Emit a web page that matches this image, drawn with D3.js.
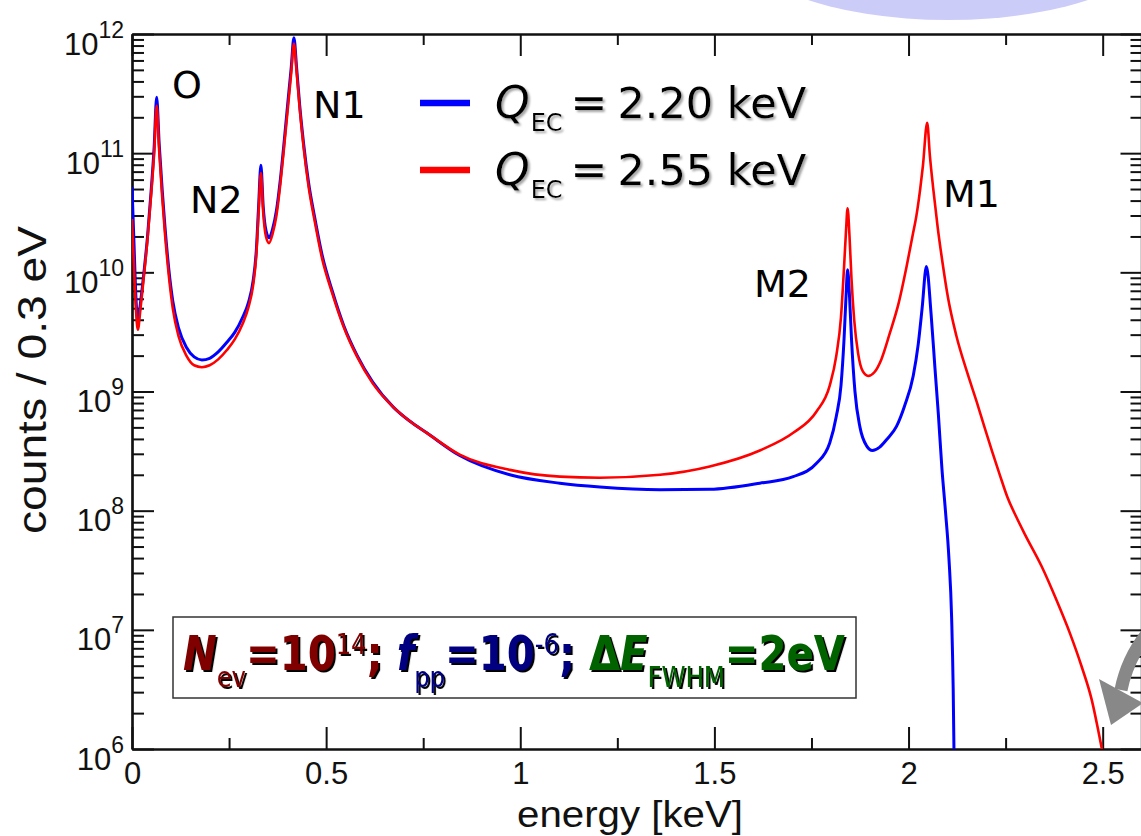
<!DOCTYPE html>
<html>
<head>
<meta charset="utf-8">
<script src="https://cdn.jsdelivr.net/npm/d3@7"></script>
<style>
  html, body { margin: 0; padding: 0; background: #fff; }
  svg { display: block; }
</style>
</head>
<body>
<svg id="chart" width="1141" height="836"></svg>
<script>
// Electron-capture calorimetric spectrum, two Q values (counts per 0.3 eV bin)
const blueEnergy = [0.000,0.005,0.010,0.015,0.022,0.030,0.040,0.050,0.057,0.0635,0.070,0.078,0.085,0.095,0.105,0.120,0.140,0.160,0.180,0.200,0.222,0.245,0.265,0.285,0.300,0.312,0.320,0.326,0.332,0.338,0.345,0.353,0.362,0.372,0.382,0.392,0.402,0.410,0.417,0.424,0.432,0.442,0.455,0.470,0.490,0.515,0.545,0.580,0.620,0.673,0.715,0.759,0.844,0.973,1.102,1.205,1.360,1.488,1.617,1.703,1.763,1.797,1.814,1.826,1.834,1.839,1.843,1.848,1.853,1.862,1.875,1.892,1.907,1.925,1.945,1.969,1.990,2.012,2.025,2.035,2.046,2.058,2.068,2.077,2.086,2.095,2.104,2.111,2.115,2.117];
const blueCounts = [5.2e10,1.8e10,6.3e9,3.9e9,5.6e9,9.5e9,2.0e10,5.2e10,1.12e11,2.95e11,1.2e11,4.8e10,2.4e10,1.05e10,5.75e9,3.4e9,2.35e9,1.95e9,1.84e9,1.9e9,2.15e9,2.6e9,3.15e9,4.2e9,5.6e9,8.5e9,1.5e10,3.55e10,7.9e10,3.55e10,2.25e10,1.95e10,2.3e10,3.3e10,6.0e10,1.26e11,2.8e11,5.2e11,9.3e11,5.2e11,2.5e11,1.2e11,5.6e10,2.95e10,1.38e10,7.1e9,3.6e9,2.0e9,1.2e9,7.4e8,5.65e8,4.5e8,2.9e8,2.0e8,1.7e8,1.58e8,1.5e8,1.51e8,1.7e8,1.93e8,2.5e8,3.7e8,6.2e8,1.12e9,2.8e9,6.3e9,1.05e10,6.3e9,2.8e9,1.0e9,5.0e8,3.5e8,3.2e8,3.4e8,4.0e8,5.1e8,7.6e8,1.35e9,2.5e9,5.0e9,1.12e10,4.5e9,1.58e9,6.3e8,2.25e8,1.0e8,4.0e7,1.26e7,3.2e6,1.0e6];

const redEnergy = [0.000,0.005,0.010,0.015,0.022,0.030,0.040,0.050,0.057,0.0635,0.070,0.078,0.085,0.095,0.105,0.120,0.140,0.160,0.180,0.200,0.222,0.245,0.265,0.285,0.300,0.312,0.320,0.326,0.332,0.338,0.345,0.353,0.362,0.372,0.382,0.392,0.402,0.410,0.417,0.424,0.432,0.442,0.455,0.470,0.490,0.515,0.545,0.580,0.620,0.673,0.715,0.759,0.844,0.973,1.102,1.205,1.360,1.488,1.617,1.703,1.763,1.797,1.814,1.826,1.834,1.839,1.843,1.848,1.853,1.860,1.870,1.882,1.896,1.912,1.930,1.952,1.975,1.995,2.010,2.020,2.030,2.037,2.048,2.055,2.063,2.075,2.089,2.101,2.123,2.150,2.175,2.195,2.215,2.235,2.255,2.278,2.300,2.343,2.381,2.416,2.446,2.472,2.489,2.498];
const redCounts = [2.8e10,1.12e10,5.0e9,3.3e9,5.0e9,8.9e9,1.9e10,4.8e10,1.0e11,2.5e11,1.05e11,4.2e10,2.1e10,9.3e9,5.0e9,2.9e9,2.0e9,1.66e9,1.6e9,1.66e9,1.86e9,2.24e9,2.75e9,3.7e9,5.1e9,7.8e9,1.38e10,3.16e10,6.8e10,3.16e10,2.0e10,1.76e10,2.1e10,3.0e10,5.5e10,1.15e11,2.5e11,4.7e11,8.3e11,4.8e11,2.35e11,1.12e11,5.2e10,2.75e10,1.29e10,6.8e9,3.5e9,1.95e9,1.17e9,7.4e8,5.65e8,4.5e8,2.95e8,2.2e8,1.93e8,1.89e8,2.0e8,2.35e8,3.2e8,4.5e8,6.8e8,1.12e9,2.0e9,4.2e9,1.12e10,2.24e10,3.45e10,2.0e10,8.9e9,4.0e9,2.1e9,1.48e9,1.35e9,1.45e9,1.86e9,3.1e9,5.6e9,1.12e10,2.0e10,2.95e10,5.0e10,7.8e10,1.8e11,9.5e10,5.25e10,2.4e10,1.12e10,6.3e9,2.95e9,1.48e9,8.3e8,5.1e8,3.16e8,2.0e8,1.29e8,8.8e7,6.3e7,3.4e7,1.78e7,9.3e6,4.9e6,2.57e6,1.41e6,1.0e6];

const seriesLabels = ["2.20 keV", "2.55 keV"];
const seriesColors = ["#0000ff", "#ff0000"];

const xMajorTicks = [0, 0.5, 1, 1.5, 2, 2.5];
const xMinorTicks = [0.25, 0.75, 1.25, 1.75, 2.25];
const xTickLabels = ["0", "0.5", "1", "1.5", "2", "2.5"];
const yExponents = [6, 7, 8, 9, 10, 11, 12];

const peakNames = ["O", "N2", "N1", "M2", "M1"];

const svg = d3.select("#chart");

const x = d3.scaleLinear().domain([0, 2.6]).range([132, 1141.5]);
const y = d3.scaleLog().domain([1e6, 1e12]).range([749, 34]);

// shadow filters for the legend and the parameter box
const defs = svg.append("defs");
defs.append("filter").attr("id", "greyShadow")
  .attr("x", "-10%").attr("y", "-30%").attr("width", "130%").attr("height", "160%")
  .append("feDropShadow")
  .attr("dx", 2).attr("dy", 2).attr("stdDeviation", 0.8)
  .attr("flood-color", "#999").attr("flood-opacity", 0.9);
defs.append("filter").attr("id", "blackShadow")
  .attr("x", "-10%").attr("y", "-30%").attr("width", "130%").attr("height", "160%")
  .append("feDropShadow")
  .attr("dx", 2.5).attr("dy", 2).attr("stdDeviation", 0.3)
  .attr("flood-color", "#000").attr("flood-opacity", 1);

// decorative shape at the top edge
svg.append("ellipse")
  .attr("cx", 948).attr("cy", -62).attr("rx", 214).attr("ry", 82)
  .attr("fill", "#ccccf9");

// clip for the curves
defs.append("clipPath").attr("id", "plotClip")
  .append("rect").attr("x", 132).attr("y", 34).attr("width", 1141.5 - 132).attr("height", 749 - 34);

// minor log positions
const yMinor = [];
yExponents.slice(0, -1).forEach(e => {
  for (let m = 2; m <= 9; m++) yMinor.push(m * Math.pow(10, e));
});
const yMajor = yExponents.map(e => Math.pow(10, e));

const axisColor = "#111";
function styleAxis(g) {
  g.selectAll("path.domain").attr("stroke", axisColor).attr("stroke-width", 2.2);
  g.selectAll(".tick line").attr("stroke", axisColor).attr("stroke-width", 2);
  g.selectAll(".tick text").remove();
}

// bottom axis
svg.append("g").attr("transform", "translate(0,749)")
  .call(d3.axisBottom(x).tickValues(xMinorTicks).tickSize(-11).tickSizeOuter(0).tickFormat(""))
  .call(styleAxis);
const bottom = svg.append("g").attr("transform", "translate(0,749)")
  .call(d3.axisBottom(x).tickValues(xMajorTicks).tickSize(-22).tickSizeOuter(0).tickFormat(""))
  .call(styleAxis);
bottom.selectAll("g.tick").append("text")
  .attr("y", 35).attr("text-anchor", "middle")
  .attr("font-family", "Liberation Sans, Arial, sans-serif")
  .attr("font-size", 31).attr("fill", "#111")
  .text((d, i) => xTickLabels[i]);

// top axis
svg.append("g").attr("transform", "translate(0,34)")
  .call(d3.axisTop(x).tickValues(xMinorTicks).tickSize(-11).tickSizeOuter(0).tickFormat(""))
  .call(styleAxis);
svg.append("g").attr("transform", "translate(0,34)")
  .call(d3.axisTop(x).tickValues(xMajorTicks).tickSize(-22).tickSizeOuter(0).tickFormat(""))
  .call(styleAxis);

// left axis
svg.append("g").attr("transform", "translate(132,0)")
  .call(d3.axisLeft(y).tickValues(yMinor).tickSize(-12).tickSizeOuter(0).tickFormat(""))
  .call(styleAxis);
const left = svg.append("g").attr("transform", "translate(132,0)")
  .call(d3.axisLeft(y).tickValues(yMajor).tickSize(-22).tickSizeOuter(0).tickFormat(""))
  .call(styleAxis);
const yLab = left.selectAll("g.tick").append("text")
  .attr("x", -8).attr("y", 20).attr("text-anchor", "end")
  .attr("font-family", "Liberation Sans, Arial, sans-serif")
  .attr("fill", "#111");
yLab.append("tspan").attr("font-size", 31).text("10");
yLab.append("tspan").attr("font-size", 23).attr("dy", -17).text((d, i) => yExponents[i]);

// right axis
svg.append("g").attr("transform", "translate(1141.5,0)")
  .call(d3.axisRight(y).tickValues(yMinor).tickSize(-11).tickSizeOuter(0).tickFormat(""))
  .call(styleAxis);
svg.append("g").attr("transform", "translate(1141.5,0)")
  .call(d3.axisRight(y).tickValues(yMajor).tickSize(-21).tickSizeOuter(0).tickFormat(""))
  .call(styleAxis);

// axis titles
svg.append("text")
  .attr("x", 630).attr("y", 827).attr("text-anchor", "middle")
  .attr("font-family", "Liberation Sans, Arial, sans-serif")
  .attr("font-size", 36).attr("fill", "#111")
  .attr("textLength", 226).attr("lengthAdjust", "spacingAndGlyphs")
  .text("energy [keV]");
svg.append("text")
  .attr("transform", "translate(46,380) rotate(-90)")
  .attr("text-anchor", "middle")
  .attr("font-family", "Liberation Sans, Arial, sans-serif")
  .attr("font-size", 40).attr("fill", "#111")
  .attr("textLength", 308).attr("lengthAdjust", "spacingAndGlyphs")
  .text("counts / 0.3 eV");

// spectra
const line = d3.line()
  .x(d => x(d[0]))
  .y(d => y(d[1]))
  .curve(d3.curveMonotoneX);

const series = [
  d3.zip(blueEnergy, blueCounts),
  d3.zip(redEnergy, redCounts)
];
const plot = svg.append("g").attr("clip-path", "url(#plotClip)");
plot.selectAll("path.spec").data(series).join("path")
  .attr("class", "spec")
  .attr("d", line)
  .attr("fill", "none")
  .attr("stroke", (d, i) => seriesColors[i])
  .attr("stroke-width", (d, i) => i === 0 ? 3 : 2.6)
  .attr("stroke-linejoin", "round");

// peak names
const peakLabelPos = [[172, 98], [190, 213], [313, 118], [754, 297], [943, 207]];
svg.selectAll("text.peak").data(peakNames).join("text")
  .attr("class", "peak")
  .attr("x", (d, i) => peakLabelPos[i][0]).attr("y", (d, i) => peakLabelPos[i][1])
  .attr("font-family", "DejaVu Sans, sans-serif")
  .attr("font-size", 38).attr("fill", "#000")
  .text(d => d);

// legend
const legend = svg.append("g");
seriesLabels.forEach((lab, i) => {
  const by = 118 + i * 67;
  legend.append("line")
    .attr("x1", 420).attr("x2", 470).attr("y1", by - 15).attr("y2", by - 15)
    .attr("stroke", seriesColors[i]).attr("stroke-width", 6.5);
  const t = legend.append("text")
    .attr("x", 495).attr("y", by)
    .attr("font-family", "DejaVu Sans, sans-serif")
    .attr("fill", "#000")
    .attr("filter", "url(#greyShadow)");
  t.append("tspan").attr("font-size", 44).attr("font-style", "italic").text("Q");
  t.append("tspan").attr("font-size", 24).attr("dy", 13).attr("dx", 1).text("EC");
  t.append("tspan").attr("font-size", 44).attr("dy", -13).attr("dx", 8).text("=");
  t.append("tspan").attr("font-size", 43).attr("dx", 10).text(lab);
});

// parameter box
svg.append("rect")
  .attr("x", 173).attr("y", 617).attr("width", 683).attr("height", 81)
  .attr("fill", "#fff").attr("stroke", "#333").attr("stroke-width", 1.5);

const noteParts = [
  {t: "N", c: "#800000", it: true},
  {t: "ev", c: "#800000", sub: true},
  {t: "=10", c: "#800000"},
  {t: "14", c: "#800000", sup: true},
  {t: "; ", c: "#800000"},
  {t: "f", c: "#000080", it: true},
  {t: "pp", c: "#000080", sub: true},
  {t: "=10", c: "#000080"},
  {t: "-6", c: "#000080", sup: true},
  {t: "; ", c: "#000080"},
  {t: "\u0394", c: "#006400"},
  {t: "E", c: "#006400", it: true},
  {t: "FWHM", c: "#006400", sub: true},
  {t: "=2eV", c: "#006400"}
];
const noteGroup = svg.append("g").attr("filter", "url(#blackShadow)");
const noteText = noteGroup.append("text")
  .attr("font-family", "DejaVu Sans, sans-serif");
let shift = 0;
noteParts.forEach(p => {
  const target = p.sub ? 17 : p.sup ? -16 : 0;
  const ts = noteText.append("tspan")
    .attr("font-size", p.sub || p.sup ? 29 : 48)
    .attr("font-style", p.it ? "italic" : "normal")
    .attr("font-weight", p.sub || p.sup ? "normal" : "bold")
    .attr("fill", p.c)
    .text(p.t);
  if (target !== shift) { ts.attr("dy", target - shift); shift = target; }
});
const bb = noteText.node().getBBox();
const sx = (845 - 183) / bb.width;
noteGroup.attr("transform", `translate(${183 - bb.x * sx},670) scale(${sx},1)`);

// grey pointer arrow at the lower right
svg.append("path")
  .attr("d", "M1152,628 Q1128,655 1121,690")
  .attr("fill", "none").attr("stroke", "#888").attr("stroke-width", 13);
svg.append("path")
  .attr("d", "M1099,679 L1143,703 L1111,725 Z")
  .attr("fill", "#888");
</script>
</body>
</html>
